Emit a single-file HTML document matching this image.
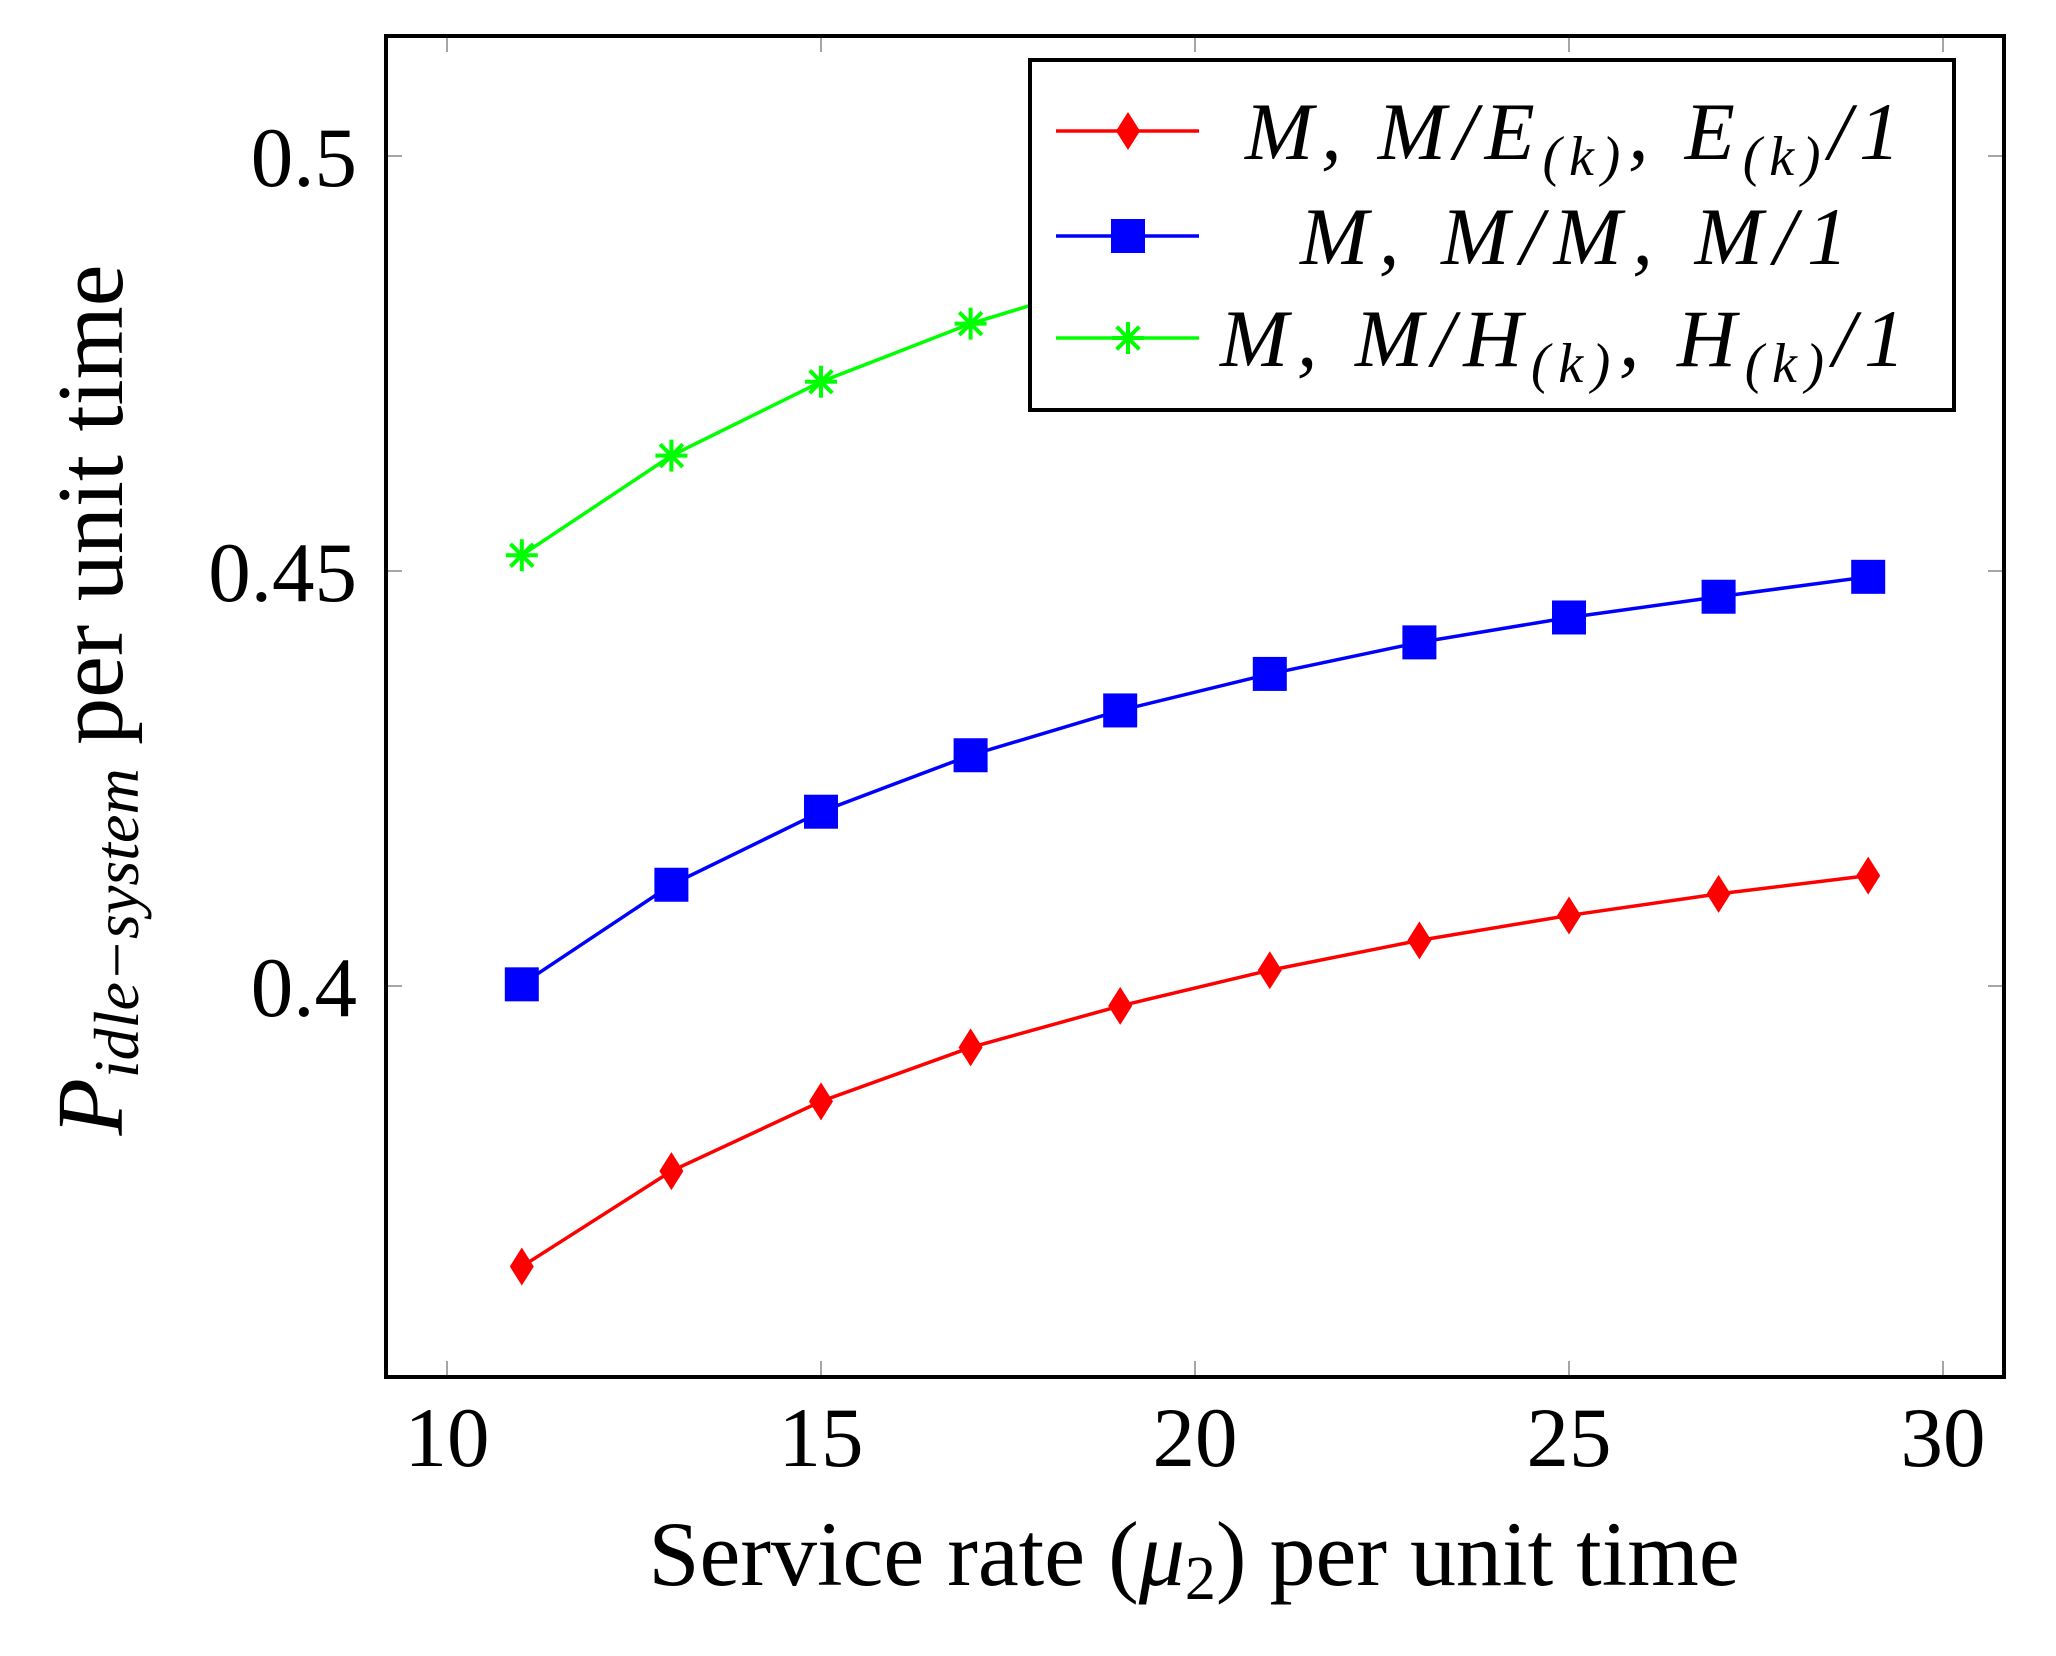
<!DOCTYPE html>
<html><head><meta charset="utf-8"><style>html,body{margin:0;padding:0;background:#fff}svg{display:block}</style></head>
<body>
<svg id="chart" xmlns="http://www.w3.org/2000/svg" width="2056" height="1656" viewBox="0 0 2056 1656" font-family="'Liberation Serif', serif">
<rect x="0" y="0" width="2056" height="1656" fill="#fff"/>
<g id="grid"></g>
<g id="series"></g>
<rect x="386" y="36" width="1618" height="1341" fill="none" stroke="#000" stroke-width="4"/>
<g id="ticklabels" font-size="85" fill="#000"></g>
<text x="1194" y="1585" font-size="92" text-anchor="middle">Service rate (<tspan font-style="italic">μ</tspan><tspan font-size="62" dy="14">2</tspan><tspan dy="-14">) per unit time</tspan></text>
<text transform="translate(122,700) rotate(-90)" font-size="94" text-anchor="middle"><tspan font-style="italic">P</tspan><tspan font-style="italic" font-size="64" dy="16">idle−system</tspan><tspan dy="-16"> per unit time</tspan></text>
<g id="legend">
<rect x="1030" y="60" width="924" height="350" fill="#fff" stroke="#000" stroke-width="4"/>
</g>
</svg>
<script>
const xValues = [11, 13, 15, 17, 19, 21, 23, 25, 27, 29];
const erlangValues = [0.3662, 0.3777, 0.3861, 0.3926, 0.3976, 0.4019, 0.4055, 0.4085, 0.4111, 0.4133];
const mmValues = [0.4002, 0.4122, 0.4210, 0.4278, 0.4332, 0.4376, 0.4414, 0.4444, 0.4469, 0.4493];
const hyperValues = [0.4519, 0.4639, 0.4728, 0.4798, 0.4853, 0.4897, 0.4935, 0.4965, 0.4990, 0.5014];
const xTicks = [10, 15, 20, 25, 30];
const xTickLabels = ["10", "15", "20", "25", "30"];
const yTicks = [0.4, 0.45, 0.5];
const yTickLabels = ["0.4", "0.45", "0.5"];

const NS = "http://www.w3.org/2000/svg";
function xs(v){ return 447 + (v - 10) * (1943 - 447) / 20; }
function ys(v){ return 986 - (v - 0.4) * (986 - 156) / 0.1; }
function mk(tag, attrs, parent){ const e = document.createElementNS(NS, tag); for (const k in attrs) e.setAttribute(k, attrs[k]); parent.appendChild(e); return e; }

const grid = document.getElementById('grid');
const tl = document.getElementById('ticklabels');
xTicks.forEach((t, i) => {
  const x = xs(t);
  const a = mk('line', {x1:x, x2:x, y1:36, y2:52, stroke:'#888', 'stroke-width':1.5}, grid);
  
  
  const b = mk('line', {x1:x, x2:x, y1:1361, y2:1377, stroke:'#888', 'stroke-width':1.5}, grid);
  
  
  const tx = mk('text', {x:x, y:1466, 'text-anchor':'middle'}, tl);
  tx.textContent = xTickLabels[i];
  
  
});
yTicks.forEach((t, i) => {
  const y = ys(t);
  const a = mk('line', {x1:386, x2:402, y1:y, y2:y, stroke:'#888', 'stroke-width':1.5}, grid);
  
  
  const b = mk('line', {x1:1988, x2:2004, y1:y, y2:y, stroke:'#888', 'stroke-width':1.5}, grid);
  
  
  const tx = mk('text', {x:357, y:y + 30, 'text-anchor':'end'}, tl);
  tx.textContent = yTickLabels[i];
  
  
});

function marker(shape, x, y, color, parent){
  let e;
  if (shape === 'diamond') e = mk('polygon', {points:`${x},${y-19} ${x+12},${y} ${x},${y+19} ${x-12},${y}`, fill:color}, parent);
  else if (shape === 'square') e = mk('rect', {x:x-17, y:y-17, width:34, height:34, fill:color}, parent);
  else {
    e = mk('g', {stroke:color, 'stroke-width':4}, parent);
    for (let k = 0; k < 4; k++) {
      const a = k * Math.PI / 4, dx = 16 * Math.cos(a), dy = 16 * Math.sin(a);
      mk('line', {x1:x-dx, y1:y-dy, x2:x+dx, y2:y+dy}, e);
    }
  }
  return e;
}

const seriesG = document.getElementById('series');
const seriesList = [
  {name:'erlang', vals:erlangValues, color:'#ff0000', shape:'diamond'},
  {name:'mm', vals:mmValues, color:'#0000ff', shape:'square'},
  {name:'hyper', vals:hyperValues, color:'#00ff00', shape:'star'}
];
seriesList.forEach(s => {
  const g = mk('g', {}, seriesG);
  
  
  const pts = xValues.map((x, i) => xs(x) + ',' + ys(s.vals[i])).join(' ');
  const pl = mk('polyline', {points:pts, fill:'none', stroke:s.color, 'stroke-width':3.5}, g);
  
  
  xValues.forEach((x, i) => {
    const m = marker(s.shape, xs(x), ys(s.vals[i]), s.color, g);
    
    
  });
});

const lg = document.getElementById('legend');
const legendRows = [
  {y:131, color:'#ff0000', shape:'diamond', x:1245, w:655, html:'M, M/E<tspan font-size="56" dy="16">(k)</tspan><tspan dy="-16">, E</tspan><tspan font-size="56" dy="16">(k)</tspan><tspan dy="-16">/1</tspan>'},
  {y:236, color:'#0000ff', shape:'square', x:1300, w:548, html:'M, M/M, M/1'},
  {y:338, color:'#00ff00', shape:'star', x:1220, w:685, html:'M, M/H<tspan font-size="56" dy="16">(k)</tspan><tspan dy="-16">, H</tspan><tspan font-size="56" dy="16">(k)</tspan><tspan dy="-16">/1</tspan>'}
];
legendRows.forEach(r => {
  const g = mk('g', {}, lg);
  
  
  mk('line', {x1:1056, x2:1199, y1:r.y, y2:r.y, stroke:r.color, 'stroke-width':3.5}, g);
  marker(r.shape, 1128, r.y, r.color, g);
  const t = mk('text', {x:r.x, y:r.y + 28, 'font-size':82, 'font-style':'italic', textLength:r.w, lengthAdjust:'spacing'}, g);
  t.innerHTML = r.html;
});
</script>
</body></html>
